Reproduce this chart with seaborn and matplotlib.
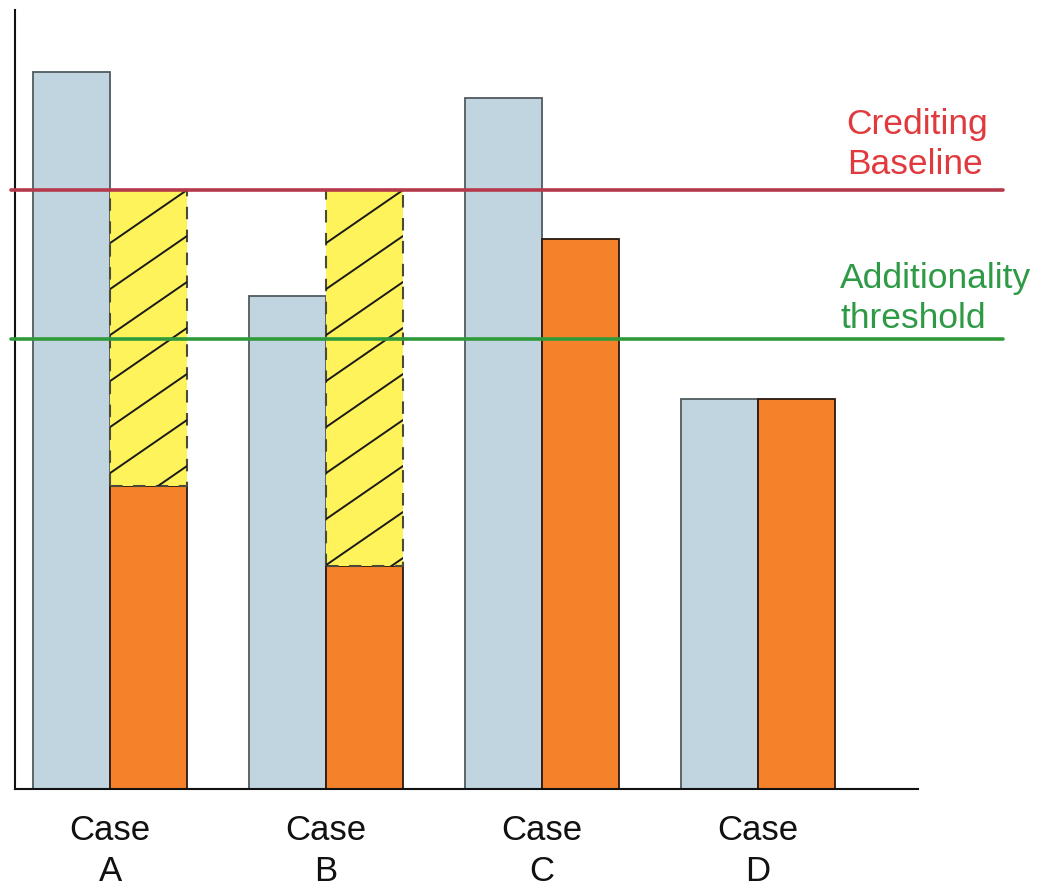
import numpy as np
import pandas as pd
import matplotlib
matplotlib.use("Agg")
import matplotlib.pyplot as plt
from matplotlib.lines import Line2D
import seaborn as sns

# ---- data -------------------------------------------------------------
cases = ["A", "B", "C", "D"]
case_labels = ["Case\nA", "Case\nB", "Case\nC", "Case\nD"]
baseline_emissions = [92.0, 63.3, 88.7, 50.1]   # light blue bars
project_emissions = [38.9, 28.6, 70.6, 50.1]    # orange bars
credited = [True, True, False, False]           # cases earning credits
crediting_baseline = 76.9
additionality_threshold = 57.8

# ---- style ------------------------------------------------------------
BLUE = "#c0d5df"
ORANGE = "#f5822a"
YELLOW = "#fff35c"
RED_LINE = "#b5394a"
RED_TEXT = "#e03a3e"
GREEN_LINE = "#2f9a3a"
GREEN_TEXT = "#2e9a46"

sns.set_style("white")
plt.rcParams["font.family"] = ["Liberation Sans", "DejaVu Sans"]

W, H = 1048, 890
fig = plt.figure(figsize=(W / 100, H / 100), dpi=100)
ax = fig.add_axes([15 / W, (H - 789) / H, 903 / W, 779 / H])

df = pd.DataFrame({
    "case": cases * 2,
    "emissions": baseline_emissions + project_emissions,
    "scenario": ["baseline"] * len(cases) + ["project"] * len(cases),
})

bar_total = 0.713
sns.barplot(data=df, x="case", y="emissions", hue="scenario",
            order=cases, hue_order=["baseline", "project"],
            palette=[BLUE, ORANGE], width=bar_total, gap=0,
            saturation=1, errorbar=None, legend=False, ax=ax)

for p in ax.containers[0]:
    p.set_edgecolor("#505a60")
    p.set_linewidth(1.3)
for p in ax.containers[1]:
    p.set_edgecolor("#2a1a10")
    p.set_linewidth(1.3)

ax.set_xlim(-0.44, 3.74)
ax.set_ylim(0, 100)

# credited volume between project emissions and the crediting baseline
bw = bar_total / 2
xpos = np.arange(len(cases)) + bw / 2
fig.canvas.draw()
px_x = ax.transData.transform((1, 0))[0] - ax.transData.transform((0, 0))[0]
px_y = ax.transData.transform((0, 1))[1] - ax.transData.transform((0, 0))[1]
hatch_slope_px = 0.69
hatch_gap_px = 46
for i, ok in enumerate(credited):
    if not ok:
        continue
    low = project_emissions[i]
    rect = ax.bar(xpos[i], crediting_baseline - low, bottom=low, width=bw,
                  color=YELLOW, edgecolor="#4a4a3a", linewidth=1.5,
                  linestyle=(0, (6, 5)), zorder=2)[0]
    rise = hatch_slope_px * bw * px_x / px_y
    gap = hatch_gap_px / px_y
    x0, x1 = xpos[i] - bw / 2, xpos[i] + bw / 2
    y_right = crediting_baseline
    while y_right > low:
        ln = Line2D([x0, x1], [y_right - rise, y_right], color="#1a1a1a",
                    linewidth=1.4, zorder=3)
        ax.add_line(ln)
        ln.set_clip_path(rect)
        y_right -= gap

# reference levels, extending past the plotting area to their labels
ytr = ax.get_yaxis_transform()
line_right = (1003 - 15) / 903
ax.plot([-0.004, line_right], [crediting_baseline] * 2, color=RED_LINE,
        linewidth=2.6, transform=ytr, clip_on=False, zorder=4)
ax.plot([-0.004, line_right], [additionality_threshold] * 2, color=GREEN_LINE,
        linewidth=2.6, transform=ytr, clip_on=False, zorder=4)
ax.text(0.921, crediting_baseline + 2.0, "Crediting\nBaseline", transform=ytr,
        ha="left", va="baseline", color=RED_TEXT, fontsize=25.5,
        linespacing=1.27)
ax.text(0.914, additionality_threshold + 1.4, "Additionality\nthreshold",
        transform=ytr, ha="left", va="baseline", color=GREEN_TEXT,
        fontsize=25.5, linespacing=1.27)

# axes
ax.set_xticks(range(len(cases)))
ax.set_xticklabels(case_labels, fontsize=25, linespacing=1.3)
ax.tick_params(axis="x", length=0, pad=18, colors="#111111")
ax.set_yticks([])
ax.set_xlabel("")
ax.set_ylabel("")
for side in ("top", "right"):
    ax.spines[side].set_visible(False)
for side in ("left", "bottom"):
    ax.spines[side].set_color("#111111")
    ax.spines[side].set_linewidth(1.5)

fig.savefig("out.png", dpi=100, facecolor="white")
